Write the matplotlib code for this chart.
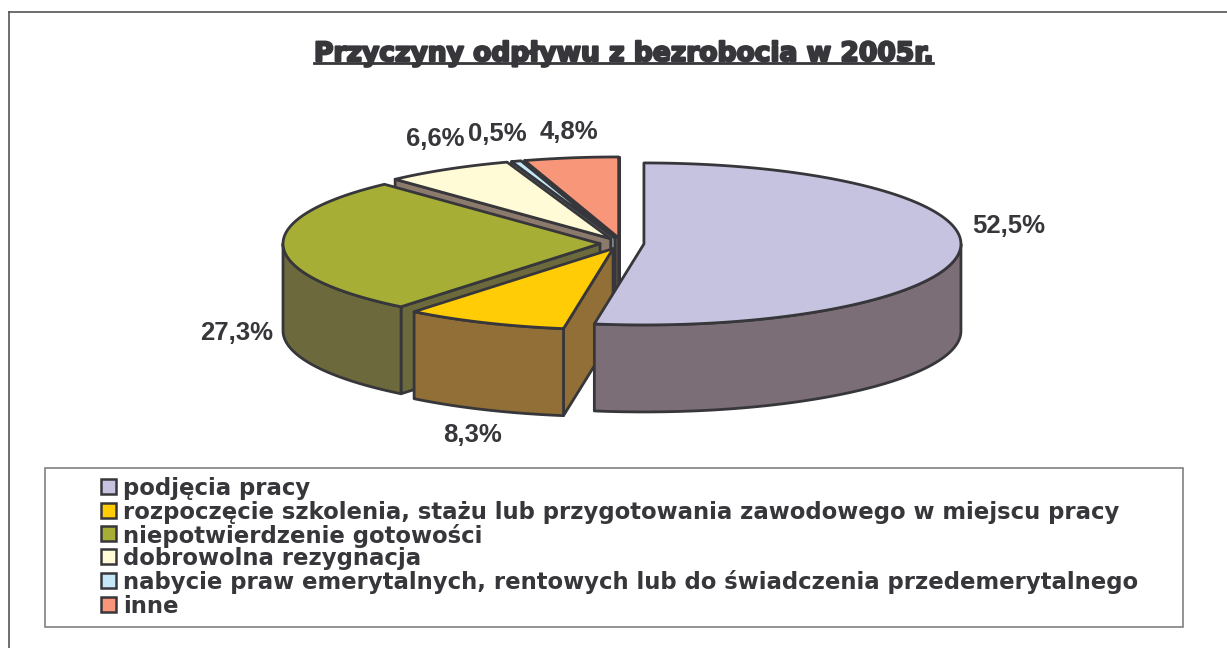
"""Przyczyny odplywu z bezrobocia - wykres kolowy 3D rysowany recznie."""

import numpy as np
import matplotlib
matplotlib.use("Agg")
import matplotlib.pyplot as plt
import matplotlib.patheffects as pe

TITLE = "Przyczyny odpływu z bezrobocia w 2005r."
CATEGORIES = [
    "podjęcia pracy",
    "rozpoczęcie szkolenia, stażu lub przygotowania zawodowego w miejscu pracy",
    "niepotwierdzenie gotowości",
    "dobrowolna rezygnacja",
    "nabycie praw emerytalnych, rentowych lub do świadczenia przedemerytalnego",
    "inne",
]
VALUES = [52.5, 8.3, 27.3, 6.6, 0.5, 4.8]
TOP_COLORS = ["#C6C3E0", "#FFCC05", "#A6AE35", "#FFFBD6", "#C4E8F8", "#F79679"]
SIDE_COLORS = ["#7C6E76", "#926F36", "#6C6A3C", "#8C7B6C", "#7F8A92", "#6F5A55"]
LABEL_POS = [(1009, 226), (473, 435), (237, 333), (435, 139), (497, 134), (569, 132)]

INK = "#37373B"
CX, CY = 622.0, 243.5
RX, RY = 317.0, 81.0
DEPTH = 87.0
EXPLODE = 22.0 / 317.0


def pt(cx, cy, deg):
    """Punct pe elipsa, unghi masurat de la 12, in sensul acelor de ceasornic."""
    a = np.radians(deg)
    return cx + RX * np.sin(a), cy - RY * np.cos(a)


fig = plt.figure(figsize=(12.27, 6.48), dpi=100)
ax = fig.add_axes([0, 0, 1, 1])
ax.set_xlim(0, 1227)
ax.set_ylim(648, 0)
ax.axis("off")

# ramka exterioara (jos si dreapta ies din imagine)
ax.plot([9, 9], [660, 12], color="#555555", lw=1.2)
ax.plot([9, 1240], [12, 12], color="#555555", lw=1.2)

# felii: de la spate spre fata
edges = np.cumsum([0] + VALUES) * 3.6 / (sum(VALUES) / 100)
for i in [5, 4, 3, 2, 1, 0]:
    a0, a1 = edges[i], edges[i + 1]
    mid = (a0 + a1) / 2
    cx, cy = pt(CX, CY, mid)
    cx = CX + (cx - CX) * EXPLODE
    cy = CY + (cy - CY) * EXPLODE
    style = dict(edgecolor=INK, linewidth=2, joinstyle="round", facecolor=SIDE_COLORS[i])

    # peretii radiali: doar cei orientati spre privitor
    walls = []
    if np.sin(np.radians(a0)) < -1e-6:
        walls.append(a0)
    if np.sin(np.radians(a1)) > 1e-6 or abs(a1 - 360) < 1e-6:
        walls.append(a1)
    for ang in walls:
        x, y = pt(cx, cy, ang)
        ax.fill([cx, x, x, cx], [cy, y, y + DEPTH, cy + DEPTH], **style)

    # peretele exterior (doar partea din fata)
    lo, hi = max(a0, 90), min(a1, 270)
    if hi > lo:
        t = np.linspace(lo, hi, 120)
        xs, ys = pt(cx, cy, t)
        ax.fill(np.r_[xs, xs[::-1]], np.r_[ys, ys[::-1] + DEPTH], **style)

    # fata de sus
    t = np.linspace(a0, a1, 200)
    xs, ys = pt(cx, cy, t)
    ax.fill(np.r_[cx, xs], np.r_[cy, ys], edgecolor=INK, linewidth=2,
            joinstyle="round", facecolor=TOP_COLORS[i])

# etichete
for v, (x, y) in zip(VALUES, LABEL_POS):
    ax.text(x, y, f"{v:.1f}%".replace(".", ","), ha="center", va="center",
            fontsize=18.5, fontweight="bold", family="Liberation Sans", color=INK)

# titlu
title = ax.text(314, 61, TITLE, ha="left", va="baseline", fontsize=19.1,
                fontweight="bold", family="DejaVu Sans", color=INK)
title.set_path_effects([pe.withStroke(linewidth=1.6, foreground=INK)])
ax.plot([314, 933], [63, 63], color=INK, lw=2)

# legenda
ax.add_patch(plt.Rectangle((45, 468), 1138, 159, fill=False, edgecolor="#808080", lw=1.2))
legend_y = [486, 510, 533, 556, 580, 604]
for name, color, y in zip(CATEGORIES, TOP_COLORS, legend_y):
    ax.add_patch(plt.Rectangle((101, y - 7), 15, 15, facecolor=color, edgecolor=INK, lw=1.8))
    ax.text(123, y, name, ha="left", va="center_baseline", fontsize=16.35,
            fontweight="bold", family="DejaVu Sans", color=INK)

fig.savefig("out.png", dpi=100)
